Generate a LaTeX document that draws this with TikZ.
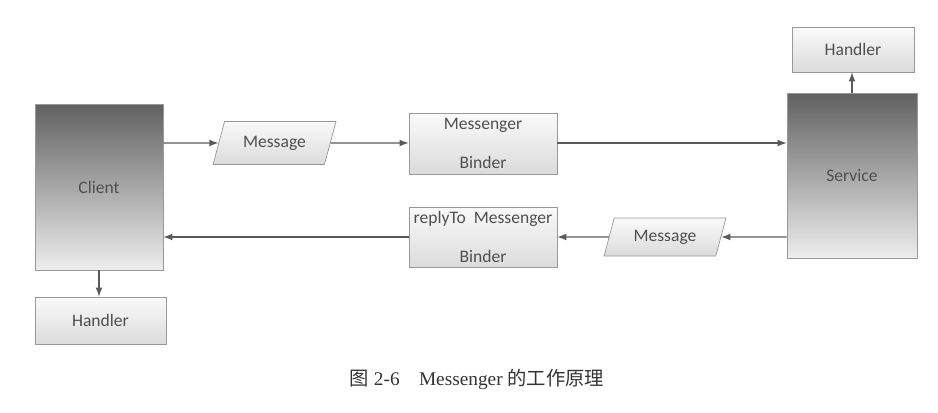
\documentclass[tikz,border=0pt]{standalone}
\usepackage{fontspec}
\setmainfont{Liberation Serif}
\newfontfamily\boxfont{Carlito}
\newfontfamily\cjk{Noto Sans CJK SC}
\usetikzlibrary{shapes.geometric}

\definecolor{edgegray}{HTML}{999999}
\definecolor{linegray}{HTML}{5A5A5A}
\definecolor{textgray}{HTML}{4F4F4F}

\begin{document}
\begin{tikzpicture}[x=0.02cm, y=-0.02cm,
    box/.style={draw=edgegray, inner sep=0pt, text=textgray,
      font=\boxfont\fontsize{10}{12}\selectfont,
      top color=black!2, bottom color=black!14},
    dark/.style={box, top color=black!62, bottom color=black!7},
    msg/.style={box, trapezium, trapezium left angle=75, trapezium right angle=105,
      trapezium stretches body, inner xsep=6pt},
    link/.style={->, >=latex, thick, linegray}]
    \useasboundingbox (0,0) rectangle (938,413);

    % Knoten
    \node[dark, minimum width=2.56cm, minimum height=3.32cm] (client) at (99,187) {Client};
    \node[box, minimum width=2.62cm, minimum height=0.94cm] (handlerA) at (100.5,320.5) {Handler};
    \node[msg, minimum width=2.46cm, inner ysep=8.2pt] (msgA) at (274.5,143) {Message};
    \node[box, align=center, minimum width=2.96cm, minimum height=1.22cm] (binder) at (483,143.5) {Messenger\\[10.5pt]Binder};
    \node[box, align=center, minimum width=2.96cm, minimum height=1.2cm] (replyBinder) at (483,237) {replyTo\ \ Messenger\\[10.5pt]Binder};
    \node[msg, minimum width=2.44cm, inner ysep=6.8pt] (msgB) at (665,237) {Message};
    \node[dark, minimum width=2.6cm, minimum height=3.3cm] (service) at (852,175.5) {Service};
    \node[box, minimum width=2.44cm, minimum height=0.9cm] (handlerB) at (853,49.5) {Handler};

    % Verbindungen
    \draw[link] (client.east |- msgA) -- (msgA);
    \draw[link] (msgA) -- (binder.west |- msgA);
    \draw[link] (binder.east |- msgA) -- (service.west |- msgA);
    \draw[link] (service.west |- msgB) -- (msgB);
    \draw[link] (msgB) -- (replyBinder);
    \draw[link] (replyBinder) -- (replyBinder -| client.east);
    \draw[link] (client.south) -- (client.south |- handlerA.north);
    \draw[link] (service.north) -- (service.north |- handlerB.south);

    % Bildunterschrift
    \node[text=black!80, font=\fontsize{11}{13}\selectfont] (caption) at (477,379)
      {{\cjk 图} 2-6\hspace{1.0em}Messenger {\cjk 的工作原理}};
\end{tikzpicture}
\end{document}
